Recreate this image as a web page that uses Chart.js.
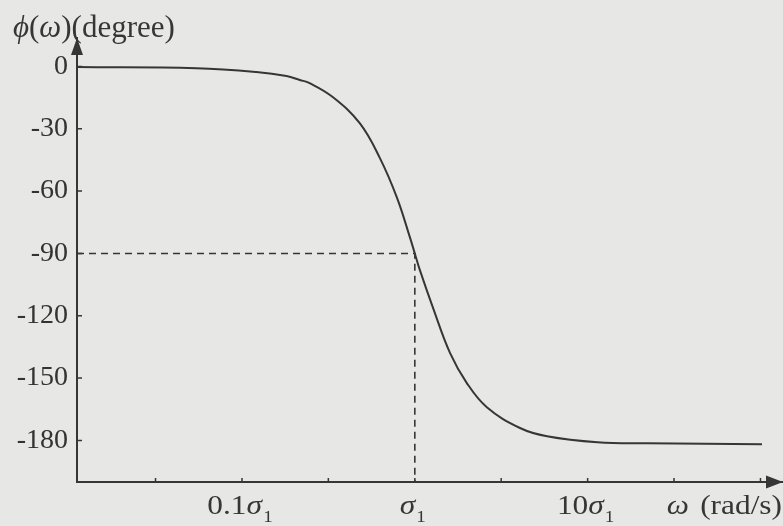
<!DOCTYPE html>
<html>
<head>
<meta charset="utf-8">
<script src="https://cdn.jsdelivr.net/npm/chart.js@4/dist/chart.umd.min.js"></script>
<style>
  body { margin: 0; background: #e7e7e5; }
  canvas { display: block; }
</style>
</head>
<body>
<canvas id="myChart" width="783" height="526"></canvas>
<script>
// values (omega in units of sigma1, phase in degrees)
const omega = [0.0111, 0.0545, 0.121, 0.181, 0.216, 0.246, 0.335, 0.48, 0.627, 0.787, 0.935, 1.0, 1.07, 1.27, 1.6, 2.0, 2.61, 4.06, 5.82, 11.4, 22.1, 102];
const phase = [-0.3, -0.9, -2.7, -4.6, -6.5, -8.0, -14.7, -27.3, -44, -63, -82, -90, -98, -115.8, -138, -152.4, -164, -174, -178, -180.9, -181.4, -181.8];

// dashed guide to the -90 degree point at sigma1
const guideX = [0.0111, 1, 1];
const guideY = [-90, -90, -200];

// axis ticks
const yTicks = [0, -30, -60, -90, -120, -150, -180];
const xTicks = [0.0316, 0.1, 0.316, 1, 3.16, 10, 31.6, 100];
const xLabelValues = [0.1, 1, 10];
const xLabelPrefix = ["0.1", "", "10"];

const ink = "#363636";
const serif = "'Liberation Serif', 'DejaVu Serif', serif";
const stretch = 1.12; // the printed glyphs are a bit wider than Liberation Serif

// fill the background
const bgPlugin = {
  id: "bg",
  beforeDraw(chart) {
    const c = chart.ctx;
    c.save();
    c.fillStyle = "#e7e7e5";
    c.fillRect(0, 0, chart.width, chart.height);
    c.restore();
  }
};

// draw a run of [text, font, dy] pieces starting at x, widened by stretch
function drawRun(c, pieces, x, base) {
  c.save();
  c.translate(x, base);
  c.scale(stretch, 1);
  let cx = 0;
  pieces.forEach(p => {
    c.font = p[1];
    c.fillText(p[0], cx, p[2] || 0);
    cx += c.measureText(p[0]).width + (p[3] || 0);
  });
  c.restore();
}
function runWidth(c, pieces) {
  let w = 0;
  pieces.forEach(p => { c.font = p[1]; w += c.measureText(p[0]).width + (p[3] || 0); });
  return w * stretch;
}

// arrows, inward ticks, sigma labels and axis titles
const decoPlugin = {
  id: "deco",
  afterDraw(chart) {
    const c = chart.ctx;
    const a = chart.chartArea;
    const xs = chart.scales.x;
    const ys = chart.scales.y;
    c.save();
    c.fillStyle = ink;
    c.strokeStyle = ink;
    c.lineWidth = 1.5;

    // arrow heads
    c.beginPath();
    c.moveTo(a.left, a.top);
    c.lineTo(a.left - 6, a.top + 17);
    c.lineTo(a.left + 6, a.top + 17);
    c.closePath();
    c.fill();
    c.beginPath();
    c.moveTo(a.right, a.bottom);
    c.lineTo(a.right - 17, a.bottom - 6.5);
    c.lineTo(a.right - 17, a.bottom + 6.5);
    c.closePath();
    c.fill();

    // small ticks pointing into the plot
    c.beginPath();
    yTicks.forEach(v => {
      const y = ys.getPixelForValue(v);
      c.moveTo(a.left, y);
      c.lineTo(a.left + 5, y);
    });
    xTicks.forEach(v => {
      const x = xs.getPixelForValue(v);
      c.moveTo(x, a.bottom);
      c.lineTo(x, a.bottom - 4);
    });
    c.stroke();

    c.textBaseline = "alphabetic";
    c.textAlign = "left";
    const fNorm = "28px " + serif;
    const fIt = "italic 28px " + serif;
    const fSub = "17px " + serif;
    const base = 514;

    // x labels: prefix + italic sigma + subscript 1
    xLabelValues.forEach((v, i) => {
      const px = xs.getPixelForValue(v);
      const pieces = [[xLabelPrefix[i], fNorm], ["σ", fIt, 0, 1], ["1", fSub, 8]];
      drawRun(c, pieces, px - runWidth(c, pieces) / 2 - 2, base);
    });

    // x axis title
    const xt = [["ω", fIt, 0, 3], [" (rad/s)", fNorm]];
    drawRun(c, xt, 782 - runWidth(c, xt), base);

    // y axis title
    const tNorm = "31px " + serif;
    const tIt = "italic 31px " + serif;
    let ty = 13;
    [["ϕ", tIt], ["(", tNorm], ["ω", tIt], [")", tNorm], ["(degree)", tNorm]].forEach(p => {
      c.font = p[1];
      c.fillText(p[0], ty, 37);
      ty += c.measureText(p[0]).width;
    });
    c.restore();
  }
};

let ctx = document.getElementById("myChart").getContext("2d");
let myChart = new Chart(ctx, {
  type: "line",
  data: {
    datasets: [
      {
        data: omega.map((w, i) => ({ x: w, y: phase[i] })),
        borderColor: ink,
        borderWidth: 2,
        pointRadius: 0,
        tension: 0.4,
        fill: false
      },
      {
        data: guideX.map((w, i) => ({ x: w, y: guideY[i] })),
        borderColor: ink,
        borderWidth: 1.6,
        borderDash: [7, 5],
        pointRadius: 0,
        tension: 0,
        fill: false
      }
    ]
  },
  options: {
    responsive: false,
    animation: false,
    layout: { padding: { top: 38, right: 0, left: 0, bottom: 0 } },
    plugins: {
      legend: { display: false },
      tooltip: { enabled: false }
    },
    scales: {
      x: {
        type: "logarithmic",
        min: 0.0111,
        max: 135,
        grid: { display: false, drawTicks: false },
        border: { display: true, color: ink, width: 2 },
        ticks: { display: false },
        afterBuildTicks: s => { s.ticks = xTicks.map(v => ({ value: v })); },
        afterFit: s => { s.height = 44; }
      },
      y: {
        type: "linear",
        min: -200,
        max: 13.7,
        grid: { display: false, drawTicks: false },
        border: { display: true, color: ink, width: 2 },
        ticks: {
          color: "#333",
          padding: 9,
          font: { family: serif, size: 28 }
        },
        afterBuildTicks: s => { s.ticks = yTicks.map(v => ({ value: v })); },
        afterFit: s => { s.width = 77; }
      }
    }
  },
  plugins: [bgPlugin, decoPlugin]
});
</script>
</body>
</html>
